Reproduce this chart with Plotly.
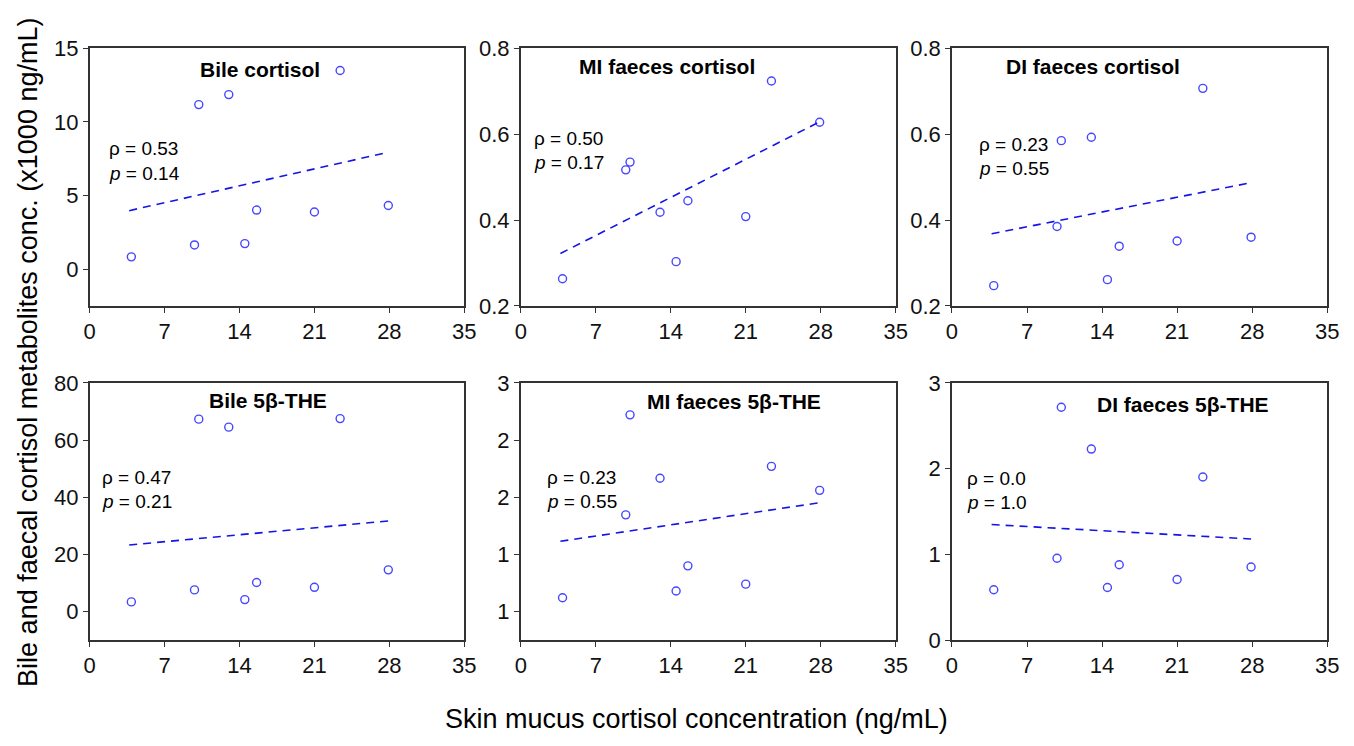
import plotly.graph_objects as go

# ---------------- data ----------------
skin_cortisol = [3.9, 9.8, 10.2, 13.0, 14.5, 15.6, 21.0, 23.4, 27.9]

bile_cortisol = [0.83, 1.64, 11.18, 11.86, 1.73, 4.01, 3.88, 13.5, 4.32]
mi_faeces_cortisol = [0.263, 0.517, 0.535, 0.418, 0.303, 0.445, 0.408, 0.724, 0.628]
di_faeces_cortisol = [0.247, 0.385, 0.585, 0.593, 0.261, 0.339, 0.351, 0.707, 0.360]
bile_the = [3.4, 7.6, 67.3, 64.5, 4.2, 10.2, 8.5, 67.5, 14.6]
mi_faeces_the = [1.121, 1.846, 2.72, 2.166, 1.18, 1.40, 1.24, 2.27, 2.06]
di_faeces_the = [0.588, 0.955, 2.715, 2.228, 0.614, 0.880, 0.708, 1.903, 0.854]

# regression line end points (x start/end, y start/end per panel)
trend_x = [3.7, 27.9]
bile_cortisol_fit = [3.97, 7.94]
mi_faeces_cortisol_fit = [0.322, 0.629]
di_faeces_cortisol_fit = [0.368, 0.487]
bile_the_fit = [23.3, 31.7]
mi_faeces_the_fit = [1.615, 1.952]
di_faeces_the_fit = [1.348, 1.18]

panel_titles = ["Bile cortisol", "MI faeces cortisol", "DI faeces cortisol",
                "Bile 5β-THE", "MI faeces 5β-THE", "DI faeces 5β-THE"]
rho_values = ["0.53", "0.50", "0.23", "0.47", "0.23", "0.0"]
p_values = ["0.14", "0.17", "0.55", "0.21", "0.55", "1.0"]

x_ticks = [0, 7, 14, 21, 28, 35]
x_ticklabels = ["0", "7", "14", "21", "28", "35"]

y_ticks = [
    [0, 5, 10, 15],
    [0.2, 0.4, 0.6, 0.8],
    [0.2, 0.4, 0.6, 0.8],
    [0, 20, 40, 60, 80],
    [1, 1.5, 2, 2.5, 3],
    [0, 1, 2, 3],
]
y_ticklabels = [
    ["0", "5", "10", "15"],
    ["0.2", "0.4", "0.6", "0.8"],
    ["0.2", "0.4", "0.6", "0.8"],
    ["0", "20", "40", "60", "80"],
    ["1", "1", "2", "2", "3"],
    ["0", "1", "2", "3"],
]
y_ranges = [[-2.5, 15], [0.2, 0.8], [0.2, 0.8], [-10, 80], [0.75, 3], [0, 3]]

series = [bile_cortisol, mi_faeces_cortisol, di_faeces_cortisol,
          bile_the, mi_faeces_the, di_faeces_the]
fits = [bile_cortisol_fit, mi_faeces_cortisol_fit, di_faeces_cortisol_fit,
        bile_the_fit, mi_faeces_the_fit, di_faeces_the_fit]

# ---------------- layout geometry ----------------
W, H = 1354, 746
FONT = "Arial, Liberation Sans, sans-serif"


def px(x):
    return x / W


def py(y):
    return 1 - y / H


col_px = [(84.7, 464.5), (521.7, 901.7), (958.7, 1339.0)]
row_px = [(37.7, 304.0), (383.7, 650.0)]

title_pos = [(257.5, 60), (670, 56), (1102, 56), (265.3, 402.3), (737.5, 403.3), (1193, 406)]
stat_pos = [(102.7, 141.7), (533.3, 130.7), (984.3, 136.7), (95.3, 481.7), (546.7, 481.7), (972, 482.7)]

fig = go.Figure()
annotations = []
layout_axes = {}

for i in range(6):
    r, c = divmod(i, 3)
    n = i + 1
    xa = "x" if n == 1 else f"x{n}"
    ya = "y" if n == 1 else f"y{n}"
    fig.add_trace(go.Scatter(
        x=skin_cortisol, y=series[i], mode="markers",
        marker=dict(symbol="circle-open", size=8, color="rgb(70,70,255)",
                    line=dict(width=1.4, color="rgb(70,70,255)")),
        xaxis=xa, yaxis=ya, showlegend=False, cliponaxis=False))
    fig.add_trace(go.Scatter(
        x=trend_x, y=fits[i], mode="lines",
        line=dict(color="rgb(20,20,230)", width=1.6, dash="8px,6px"),
        xaxis=xa, yaxis=ya, showlegend=False))

    x0, x1 = col_px[c]
    yt, yb = row_px[r]
    axis_common = dict(
        showline=True, linecolor="#333333", linewidth=1.5, mirror=True,
        ticks="outside", ticklen=5, tickwidth=1.3, tickcolor="#333333",
        showgrid=False, zeroline=False,
        tickfont=dict(family=FONT, size=22, color="#111111"),
    )
    layout_axes["xaxis" if n == 1 else f"xaxis{n}"] = dict(
        domain=[px(x0), px(x1)], range=[0, 35], anchor=ya,
        tickvals=x_ticks, ticktext=x_ticklabels, **axis_common)
    layout_axes["yaxis" if n == 1 else f"yaxis{n}"] = dict(
        domain=[py(yb), py(yt)], range=y_ranges[i], anchor=xa,
        tickvals=y_ticks[i], ticktext=y_ticklabels[i], **axis_common)

    tx, ty = title_pos[i]
    annotations.append(dict(
        x=px(tx), y=py(ty), xref="paper", yref="paper", showarrow=False,
        xanchor="center", yanchor="middle", text=f"<b>{panel_titles[i]}</b>",
        font=dict(family=FONT, size=21, color="#000000")))
    sx, sy = stat_pos[i]
    annotations.append(dict(
        x=px(sx), y=py(sy), xref="paper", yref="paper", showarrow=False,
        xanchor="left", yanchor="middle", text=f"ρ = {rho_values[i]}",
        font=dict(family=FONT, size=19, color="#000000")))
    annotations.append(dict(
        x=px(sx), y=py(sy + 25), xref="paper", yref="paper", showarrow=False,
        xanchor="left", yanchor="middle", text=f"<i>p</i> = {p_values[i]}",
        font=dict(family=FONT, size=19, color="#000000")))

annotations.append(dict(
    x=px(700), y=py(731), xref="paper", yref="paper", showarrow=False,
    xanchor="center", yanchor="middle",
    text="Skin mucus cortisol concentration (ng/mL)",
    font=dict(family=FONT, size=27, color="#000000")))
annotations.append(dict(
    x=px(22), y=py(352), xref="paper", yref="paper", showarrow=False,
    xanchor="center", yanchor="middle", textangle=-90,
    text="Bile and faecal cortisol metabolites conc. (x1000 ng/mL)",
    font=dict(family=FONT, size=27, color="#000000")))

fig.update_layout(
    width=W, height=H,
    margin=dict(l=0, r=0, t=0, b=0),
    paper_bgcolor="white", plot_bgcolor="white",
    annotations=annotations,
    **layout_axes,
)

fig.write_html("out.html")
